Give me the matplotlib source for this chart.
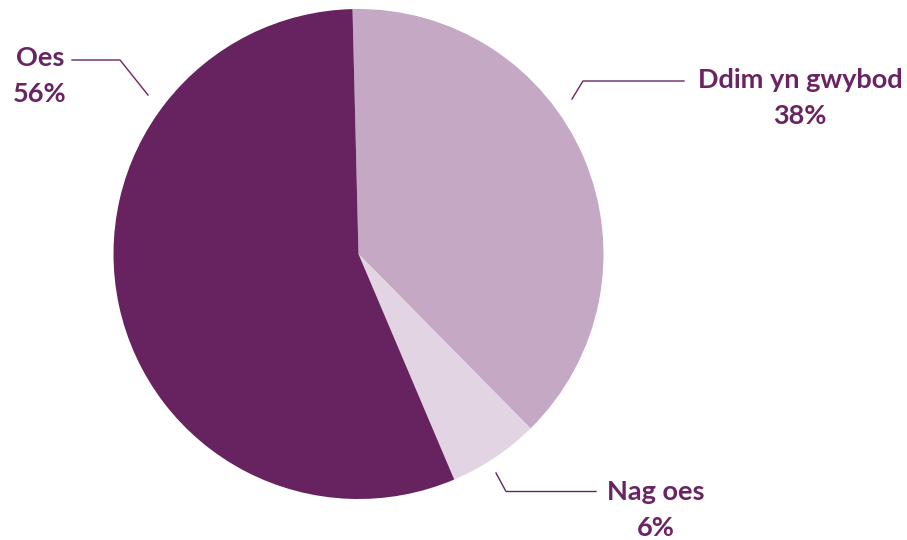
import matplotlib
matplotlib.use("Agg")
import matplotlib.pyplot as plt
import numpy as np

# Data
categories = ["Ddim yn gwybod", "Nag oes", "Oes"]
values = [38, 6, 56]
pct_labels = ["38%", "6%", "56%"]
colors = ["#C4A8C4", "#E2D4E2", "#672360"]
text_color = "#6A2463"

W, H = 907, 540
fig = plt.figure(figsize=(W / 100, H / 100), dpi=100)
ax = fig.add_axes([0, 0, 1, 1])

cx, cy, R = 358.5, H - 254, 245
ax.pie(values, colors=colors, startangle=91.4, counterclock=False,
       center=(cx, cy), radius=R, frame=True,
       wedgeprops=dict(linewidth=0))
ax.set_xlim(0, W)
ax.set_ylim(0, H)
ax.set_aspect("equal")
ax.axis("off")

# label layout: (text centre x, text top-line y in image px), leader points (image px)
layout = {
    "Ddim yn gwybod": dict(tx=800, ty=80, pts=[(572, 99), (583, 81), (684, 81)]),
    "Nag oes": dict(tx=656, ty=492, pts=[(496, 473), (506, 491.5), (596, 491.5)]),
    "Oes": dict(tx=40, ty=58, pts=[(72, 60), (120, 60), (148, 95)]),
}

for cat, pct in zip(categories, pct_labels):
    L = layout[cat]
    xs = [p[0] for p in L["pts"]]
    ys = [H - p[1] for p in L["pts"]]
    ax.plot(xs, ys, color=text_color, lw=1.0)
    ax.text(L["tx"], H - L["ty"], cat, ha="center", va="center",
            fontsize=19.5, fontweight="bold", color=text_color, family="Lato")
    ax.text(L["tx"], H - L["ty"] - 36, pct, ha="center", va="center",
            fontsize=19.5, fontweight="bold", color=text_color, family="Lato")

fig.savefig("out.png", dpi=100)
